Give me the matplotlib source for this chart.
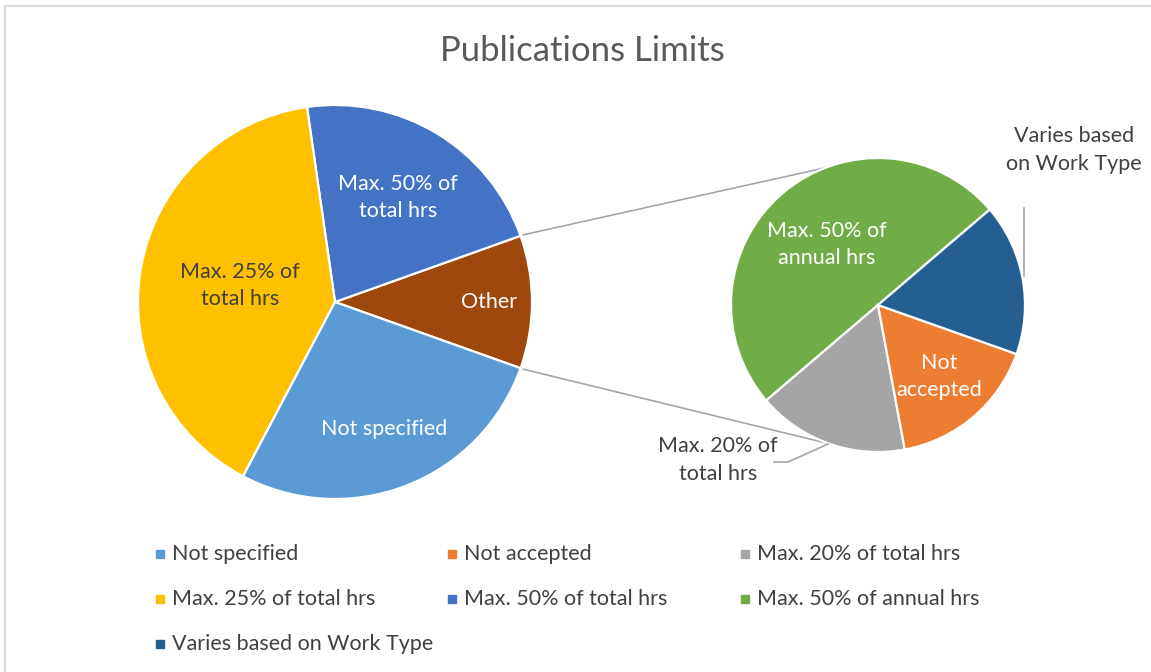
import numpy as np
import matplotlib.pyplot as plt

plt.rcParams['font.family'] = ['Lato', 'DejaVu Sans']

# legend / series order as in the source chart
labels = ['Not specified', 'Not accepted', 'Max. 20% of total hrs',
          'Max. 25% of total hrs', 'Max. 50% of total hrs',
          'Max. 50% of annual hrs', 'Varies based on Work Type']
counts = [15, 1, 1, 22, 12, 3, 1]
colors = ['#5B9BD5', '#ED7D31', '#A5A5A5', '#FFC000', '#4472C4',
          '#70AD47', '#255E91']
# slices grouped into the secondary pie
in_other = [False, True, True, False, False, True, True]

# slice labels shown on the pies
main_labels = {'Other': 'Other', 'Max. 50% of total hrs': 'Max. 50% of\ntotal hrs',
               'Max. 25% of total hrs': 'Max. 25% of\ntotal hrs',
               'Not specified': 'Not specified'}
sub_labels = {'Max. 50% of annual hrs': 'Max. 50% of\nannual hrs',
              'Max. 20% of total hrs': 'Max. 20% of\ntotal hrs',
              'Not accepted': 'Not\naccepted',
              'Varies based on Work Type': 'Varies based\non Work Type'}

other_color = '#9E480E'
dark = '#404040'
fs = 15.5
ls = 1.45

W, H = 1151, 672
fig = plt.figure(figsize=(W / 100, H / 100), dpi=100)
ax = fig.add_axes([0, 0, 1, 1])

# main pie: Other first, then counter-clockwise
main_order = ['Max. 50% of total hrs', 'Max. 25% of total hrs', 'Not specified']
other_total = sum(c for c, o in zip(counts, in_other) if o)
main_vals = [other_total] + [counts[labels.index(n)] for n in main_order]
main_cols = [other_color] + [colors[labels.index(n)] for n in main_order]
main_names = ['Other'] + main_order
total = sum(main_vals)

c1, r1 = (335, 370), 197
start1 = -360 * other_total / total / 2
w1, _ = ax.pie(main_vals, colors=main_cols, center=c1, radius=r1,
               startangle=start1, counterclock=True,
               wedgeprops=dict(edgecolor='white', linewidth=1.6))

# secondary pie
sub_order = ['Max. 50% of annual hrs', 'Max. 20% of total hrs',
             'Not accepted', 'Varies based on Work Type']
sub_vals = [counts[labels.index(n)] for n in sub_order]
sub_cols = [colors[labels.index(n)] for n in sub_order]

c2, r2 = (878, 367), 147
w2, _ = ax.pie(sub_vals, colors=sub_cols, center=c2, radius=r2,
               startangle=40.5, counterclock=True,
               wedgeprops=dict(edgecolor='white', linewidth=1.6))

# pie() resets the limits, so set the pixel frame afterwards
ax.set_xlim(0, W)
ax.set_ylim(0, H)
ax.set_aspect('equal')
ax.axis('off')

main_frac = {'Other': 0.78, 'Max. 50% of total hrs': 0.62,
             'Max. 25% of total hrs': 0.49, 'Not specified': 0.69}
for w, name in zip(w1, main_names):
    mid = np.deg2rad((w.theta1 + w.theta2) / 2)
    d = r1 * main_frac[name]
    col = dark if name == 'Max. 25% of total hrs' else 'white'
    ax.text(c1[0] + d * np.cos(mid), c1[1] + d * np.sin(mid), main_labels[name],
            ha='center', va='center', fontsize=fs, color=col, linespacing=ls)

inside = {'Max. 50% of annual hrs': 0.54, 'Not accepted': 0.64}
for w, name in zip(w2, sub_order):
    mid = np.deg2rad((w.theta1 + w.theta2) / 2)
    if name in inside:
        d = r2 * inside[name]
        ax.text(c2[0] + d * np.cos(mid), c2[1] + d * np.sin(mid), sub_labels[name],
                ha='center', va='center', fontsize=fs, color='white',
                linespacing=ls)

# outside labels with leader lines
ax.text(718, 212, sub_labels['Max. 20% of total hrs'], ha='center', va='center',
        fontsize=fs, color=dark, linespacing=ls)
ax.plot([774, 788, 828], [210, 210, 228], color='#A5A5A5', lw=1.2)
ax.text(1074, 522, sub_labels['Varies based on Work Type'], ha='center',
        va='center', fontsize=fs, color=dark, linespacing=ls)
ax.plot([1024, 1024], [464, 396], color='#A5A5A5', lw=1.2)

# connector lines between the pies
oth = w1[0]
for ang1, ang2 in [(oth.theta2, 111), (oth.theta1, -109)]:
    a1, a2 = np.deg2rad(ang1), np.deg2rad(ang2)
    ax.plot([c1[0] + (r1 + 3) * np.cos(a1), c2[0] + r2 * np.cos(a2)],
            [c1[1] + (r1 + 3) * np.sin(a1), c2[1] + r2 * np.sin(a2)],
            color='#A5A5A5', lw=1.2, zorder=0)

# title
ax.text(582, 621, 'Publications Limits', ha='center', va='center',
        fontsize=25, color='#595959')

# legend, row by row
col_x = [160, 452, 745]
row_y = [118, 73, 28]
for i, (lab, col) in enumerate(zip(labels, colors)):
    x, y = col_x[i % 3], row_y[i // 3]
    ax.plot(x, y, marker='s', ms=6, color=col, ls='none')
    ax.text(x + 12, y, lab, ha='left', va='center', fontsize=fs, color=dark)

# chart area border (top and left visible)
ax.plot([5.5, 5.5, W], [0, H - 5.5, H - 5.5], color='#D9D9D9', lw=1.5)

fig.savefig('out.png', dpi=100)
